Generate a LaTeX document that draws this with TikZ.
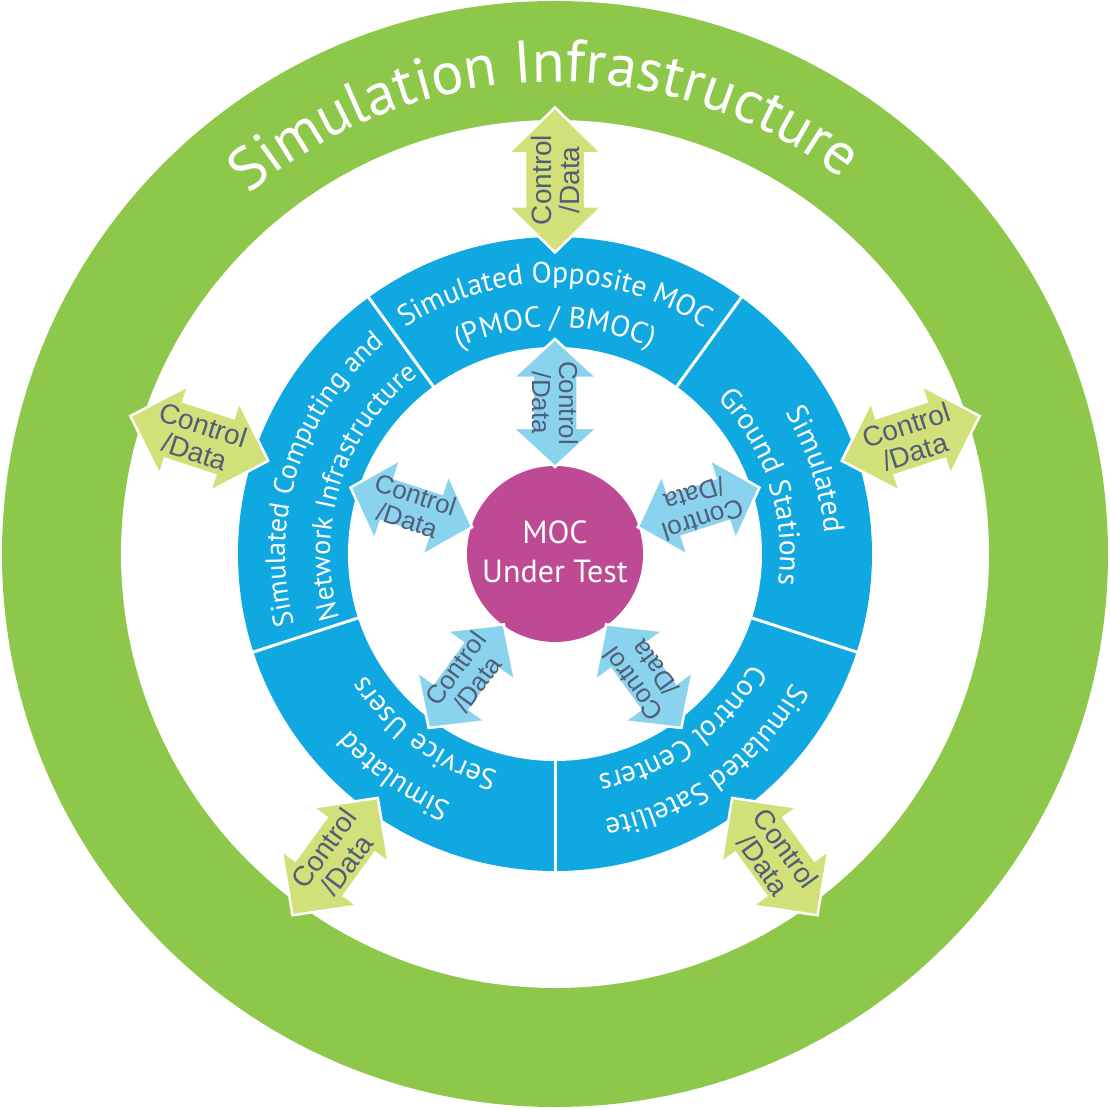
\documentclass[tikz,border=0pt]{standalone}
\usepackage{fontspec}
\setmainfont{PT Sans}
\newfontfamily\arrfont{Liberation Sans}
\usetikzlibrary{decorations.text}
\definecolor{ringgreen}{HTML}{8DC84A}
\definecolor{ringblue}{HTML}{10A8E0}
\definecolor{limearrow}{HTML}{D2E07A}
\definecolor{bluearrow}{HTML}{8AD3EE}
\definecolor{mocpink}{HTML}{BE4A94}
\definecolor{arrtext}{HTML}{525E78}
\newcommand{\segfnt}{\fontsize{29.5}{30}\selectfont\color{white}}
\newcommand{\segfntsmall}{\fontsize{28}{30}\selectfont\color{white}}
\newcommand{\titlefnt}{\fontsize{60}{62}\selectfont\color{white}}
% generic double arrow: angle, mid radius, half length, half shaft, half head, head length, fill
\newcommand{\arrowshape}[7]{%
  \begin{scope}[shift={(#1:#2)}, rotate=#1]
    \filldraw[fill=#7, draw=white, line width=2.5, line join=miter]
      (-#3,0) -- (-#3+#6,#5) -- (-#3+#6,#4) -- (#3-#6,#4) -- (#3-#6,#5) -- (#3,0)
      -- (#3-#6,-#5) -- (#3-#6,-#4) -- (-#3+#6,-#4) -- (-#3+#6,-#5) -- cycle;
  \end{scope}}
\newcommand{\outerarrow}[3]{%
  \arrowshape{#2}{374}{72.5}{30}{47}{46}{limearrow}
  \node[outtxt, rotate=#3] (#1) at (#2:374) {Control\\/Data};}
\newcommand{\innerarrow}[3]{%
  \arrowshape{#2}{151}{64}{22.5}{42.5}{39}{bluearrow}
  \node[intxt, rotate=#3] (#1) at (#2:151) {Control\\/Data};}
\newcommand{\segtext}[4]{%
  \path[decorate, decoration={text along path, text align=center,
      text={|#4|#3}}]
    (#1+36:#2) arc[start angle=#1+36, end angle=#1-36, radius=#2];}
\begin{document}
\begin{tikzpicture}[x=1pt, y=1pt,
  outtxt/.style={text=arrtext, align=center, inner sep=0pt,
    font=\arrfont\fontsize{28}{28}\selectfont},
  intxt/.style={text=arrtext, align=center, inner sep=0pt,
    font=\arrfont\fontsize{26}{27}\selectfont},
  divider/.style={white, line width=3}]
\useasboundingbox (-555,-556) rectangle (555,554);
% outer green ring
\fill[ringgreen] (0,0) circle[radius=553];
\fill[white] (0,0) circle[radius=434];
% blue ring
\fill[ringblue] (0,0) circle[radius=317];
\fill[white] (0,0) circle[radius=207];
\foreach \a in {54,126,198,270,342}
  \draw[divider] (\a:204) -- (\a:320);
% segment labels
\segtext{90}{271}{Simulated Opposite MOC}{\segfnt}
\segtext{90}{227}{(PMOC / BMOC)}{\segfnt}
\segtext{18}{270}{Simulated}{\segfnt}
\segtext{18}{225}{Ground Stations}{\segfnt}
\segtext{-54}{270}{Simulated Satellite}{\segfnt}
\segtext{-54}{225}{Control Centers}{\segfnt}
\segtext{-126}{270}{Simulated}{\segfnt}
\segtext{-126}{225}{Service Users}{\segfnt}
\segtext{162}{270}{Simulated Computing and}{\segfntsmall}
\segtext{162}{225}{Network Infrastructure}{\segfntsmall}
% centre
\fill[mocpink] (0,0) circle[radius=88];
\node[text=white, align=center, inner sep=0pt,
  font=\fontsize{32}{39}\selectfont] (moc) at (0,2) {MOC\\Under Test};
% outer arrows
\outerarrow{o1}{90}{90}
\outerarrow{o2}{18}{18}
\outerarrow{o3}{-54}{-54}
\outerarrow{o4}{-126}{54}
\outerarrow{o5}{162}{-18}
% inner arrows
\innerarrow{i1}{90}{-90}
\innerarrow{i2}{18}{198}
\innerarrow{i3}{-54}{126}
\innerarrow{i4}{-126}{54}
\innerarrow{i5}{162}{-18}
% title
\path[decorate, decoration={text along path, text align=center,
    text={|\titlefnt|Simulation Infrastructure}}]
  (151.5:472) arc[start angle=151.5, end angle=31.5, radius=472];
\end{tikzpicture}
\end{document}
